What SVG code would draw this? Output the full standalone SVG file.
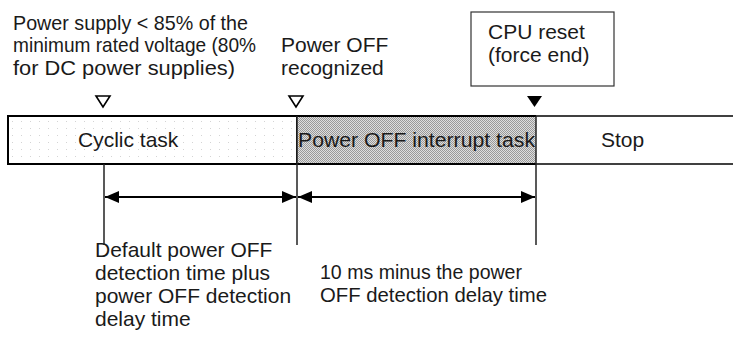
<svg xmlns="http://www.w3.org/2000/svg" width="733" height="345" viewBox="0 0 733 345">
<style>
text{font-family:"Liberation Sans",Arial,sans-serif;font-size:21px;fill:#1a1a1a}
.ln{stroke:#222;stroke-width:1.5;fill:none}
.ar{stroke:#000;stroke-width:2;fill:none}
</style>
<defs>
<pattern id="dots" width="2" height="2" patternUnits="userSpaceOnUse">
<rect width="2" height="2" fill="#dedede"/>
<rect x="0" y="0" width="1" height="1" fill="#999"/>
<rect x="1" y="1" width="1" height="1" fill="#999"/>
</pattern>
<pattern id="speck" width="9" height="7" patternUnits="userSpaceOnUse">
<rect width="9" height="7" fill="#fff"/>
<rect x="3" y="2" width="1" height="1" fill="#d4d4d4"/>
</pattern>
<marker id="ah" viewBox="0 0 14 12" refX="14" refY="6" markerWidth="14" markerHeight="12" markerUnits="userSpaceOnUse" orient="auto-start-reverse">
<path d="M0,0 L14,6 L0,12 Z" fill="#000"/>
</marker>
</defs>

<g id="label-power-supply">
<text x="13" y="30" textLength="235" lengthAdjust="spacingAndGlyphs">Power supply &lt; 85% of the</text>
<text x="13" y="52" textLength="243" lengthAdjust="spacingAndGlyphs">minimum rated voltage (80%</text>
<text x="13" y="75" textLength="222" lengthAdjust="spacingAndGlyphs">for DC power supplies)</text>
<path d="M96,96 L110,96 L103,107 Z" fill="#fff" stroke="#000" stroke-width="1.6"/>
</g>

<g id="label-power-off">
<text x="281" y="52">Power OFF</text>
<text x="281" y="75">recognized</text>
<path d="M289,96 L303,96 L296,107 Z" fill="#fff" stroke="#000" stroke-width="1.6"/>
</g>

<g id="cpu-reset">
<rect x="471" y="12" width="143" height="74" fill="#fff" stroke="#333" stroke-width="1.2"/>
<text x="488" y="39">CPU reset</text>
<text x="488" y="62">(force end)</text>
<path d="M527,96 L542,96 L534.5,107 Z" fill="#000"/>
</g>

<g id="cyclic-task">
<rect x="8" y="116" width="289" height="48" fill="url(#speck)" stroke="#000" stroke-width="2"/>
<text x="78" y="147">Cyclic task</text>
</g>

<g id="power-off-interrupt-task">
<rect x="297" y="116" width="239" height="48" fill="url(#dots)"/>
<line x1="297" y1="116" x2="536" y2="116" stroke="#000" stroke-width="2"/>
<line x1="297" y1="164" x2="536" y2="164" stroke="#000" stroke-width="2"/>
<text x="298" y="147" textLength="237" lengthAdjust="spacingAndGlyphs">Power OFF interrupt task</text>
</g>

<g id="stop">
<line x1="536" y1="116" x2="733" y2="116" stroke="#000" stroke-width="1.5"/>
<line x1="536" y1="164" x2="733" y2="164" stroke="#000" stroke-width="1.5"/>
<text x="601" y="147">Stop</text>
</g>

<g id="connectors">
<line class="ln" x1="104" y1="164" x2="104" y2="245"/>
<line class="ln" x1="297" y1="116" x2="297" y2="245"/>
<line class="ln" x1="536" y1="116" x2="536" y2="245"/>
<line class="ar" x1="105" y1="197" x2="296" y2="197" marker-start="url(#ah)" marker-end="url(#ah)"/>
<line class="ar" x1="298" y1="197" x2="535" y2="197" marker-start="url(#ah)" marker-end="url(#ah)"/>
</g>

<g id="label-default">
<text x="95" y="257">Default power OFF</text>
<text x="95" y="280">detection time plus</text>
<text x="95" y="303">power OFF detection</text>
<text x="95" y="326">delay time</text>
</g>

<g id="label-10ms">
<text x="320" y="279" textLength="202" lengthAdjust="spacingAndGlyphs">10 ms minus the power</text>
<text x="320" y="302" textLength="227" lengthAdjust="spacingAndGlyphs">OFF detection delay time</text>
</g>
</svg>
